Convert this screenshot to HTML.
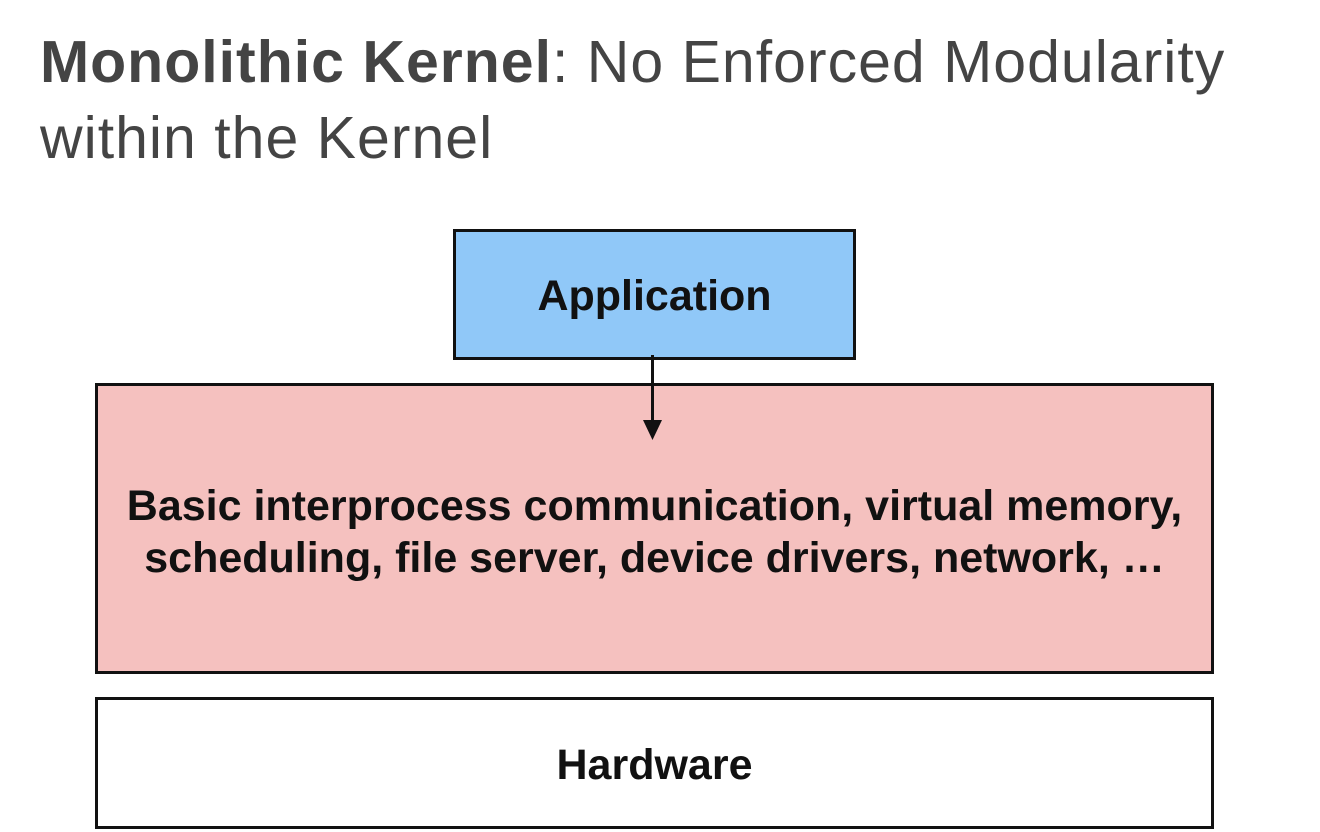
<!DOCTYPE html>
<html><head><meta charset="utf-8"><style>
body{margin:0;width:1320px;height:832px;background:#fff;position:relative;overflow:hidden;font-family:"Liberation Sans",sans-serif}
.t{position:absolute;left:40px;color:#444;font-size:59px;line-height:76px;white-space:nowrap;letter-spacing:1px}
.box{position:absolute;box-sizing:border-box;border:3px solid #111;display:flex;align-items:center;justify-content:center;text-align:center;font-weight:bold;color:#111;font-size:43px}
</style></head><body>
<div class="t" style="top:24px"><b style="font-weight:bold">Monolithic Kernel</b>: No Enforced Modularity</div>
<div class="t" style="top:100px">within the Kernel</div>
<div class="box" style="left:453px;top:229px;width:403px;height:131px;background:#90c8f8;padding-top:4px">Application</div>
<div class="box" style="left:95px;top:383px;width:1119px;height:291px;background:#f5c1bf;line-height:52px;padding-top:6px">Basic interprocess communication, virtual memory,<br>scheduling, file server, device drivers, network, …</div>
<div class="box" style="left:95px;top:697px;width:1119px;height:132px;background:#fff;padding-top:4px">Hardware</div>
<svg style="position:absolute;left:0;top:0" width="1320" height="832">
<line x1="652.5" y1="355" x2="652.5" y2="425" stroke="#111" stroke-width="3"/>
<polygon points="643,420 662,420 652.5,440" fill="#111"/>
</svg>
</body></html>
